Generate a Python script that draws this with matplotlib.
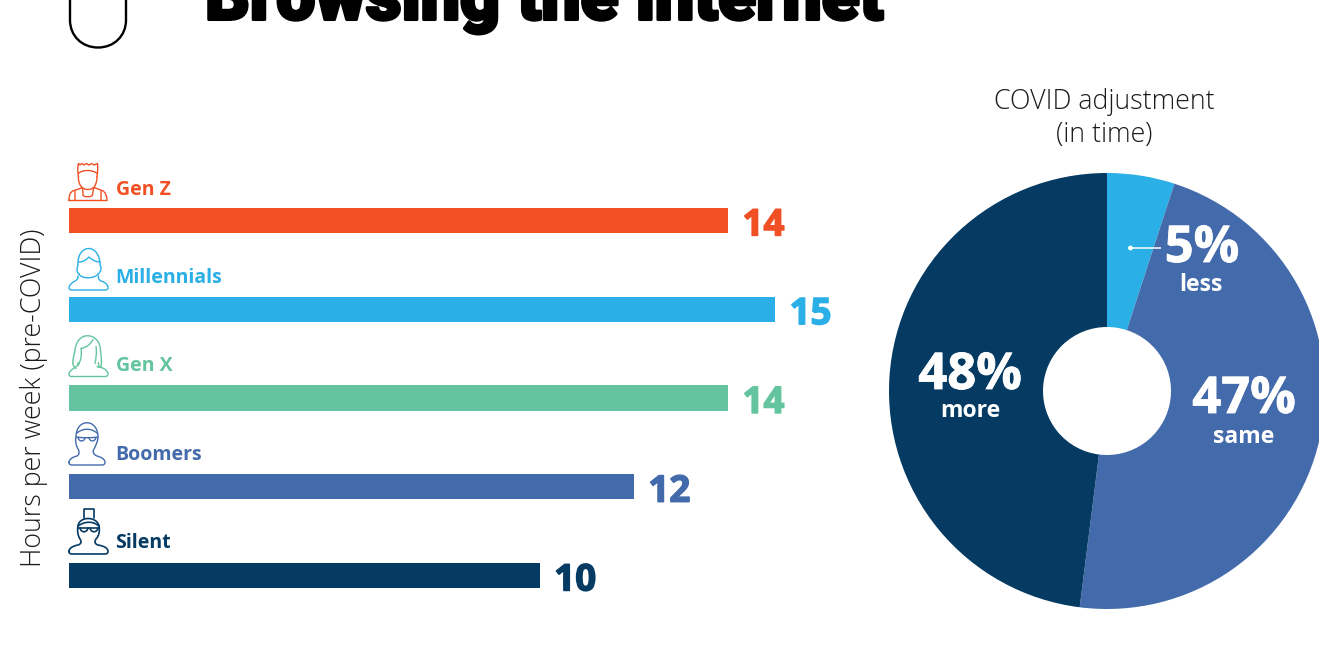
import matplotlib
matplotlib.use("Agg")
import matplotlib.pyplot as plt
import matplotlib.patheffects as pe
from matplotlib.path import Path
from matplotlib.patches import PathPatch, Circle

# Survey values
generations = ["Gen Z", "Millennials", "Gen X", "Boomers", "Silent"]
hours_per_week = [14, 15, 14, 12, 10]
adjustment_labels = ["less", "same", "more"]
adjustment_share = [5, 47, 48]

ORANGE, SKY, GREEN, STEEL, NAVY = "#F15025", "#2AAFE7", "#63C49F", "#436BAB", "#053A63"
bar_colors = [ORANGE, SKY, GREEN, STEEL, NAVY]
pie_colors = [SKY, STEEL, NAVY]

W, H = 1319, 649
BODY = ["Open Sans", "DejaVu Sans"]
plt.rcParams["font.family"] = BODY
fig = plt.figure(figsize=(W / 100, H / 100), dpi=100, facecolor="white")


def px_axes(left, top, right, bottom):
    return fig.add_axes([left / W, 1 - bottom / H, (right - left) / W, (bottom - top) / H])


# Horizontal bars: 15 hours spans 706 px, one row is 88.75 px tall
ax_bar = px_axes(69, 176.1, 775, 619.9)
ax_bar.set_xlim(0, 15)
ax_bar.set_ylim(4.5, -0.5)
ax_bar.axis("off")
positions = range(len(generations))
ax_bar.barh(positions, hours_per_week, height=0.282, color=bar_colors, linewidth=0)
for y, v, c in zip(positions, hours_per_week, bar_colors):
    t = ax_bar.annotate(str(v), (v, y), xytext=(14.5, -5), textcoords="offset pixels",
                        ha="left", va="center", color=c, fontsize=26.5, fontweight="bold",
                        clip_on=False)
    t.set_path_effects([pe.withStroke(linewidth=1.0, foreground=c)])

# Donut
ax_pie = px_axes(889, 173, 1325, 609)
ax_pie.set_aspect("equal")
ax_pie.pie(adjustment_share, colors=pie_colors, startangle=90, counterclock=False,
           radius=1, wedgeprops=dict(width=1 - 64 / 218, linewidth=0))
ax_pie.set_xlim(-1, 1)
ax_pie.set_ylim(-1, 1)
for p in ax_pie.patches:
    p.set_clip_on(False)

# Overlay in pixel coordinates for the annotations and pictograms
ov = fig.add_axes([0, 0, 1, 1])
ov.set_xlim(0, W)
ov.set_ylim(H, 0)
ov.axis("off")
ov.patch.set_alpha(0)

label_y = [190, 278, 366, 455, 543]
for name, c, y in zip(generations, bar_colors, label_y):
    ov.text(115.5, y, name, color=c, fontsize=14, fontweight="bold", ha="left", va="center")

DARK = "#1c1c1c"
ov.text(34.5, 397.5, "Hours per week (pre-COVID)", rotation=90, ha="center", va="center",
        fontsize=19.3, fontweight="light", color=DARK)
ov.text(1104, 102.5, "COVID adjustment", ha="center", va="center", fontsize=19.3,
        fontweight="light", color=DARK)
ov.text(1104, 135, "(in time)", ha="center", va="center", fontsize=19.3,
        fontweight="light", color=DARK)

title = ov.text(205, 19.5, "Browsing the internet", ha="left", va="baseline", fontsize=50.1,
                fontweight="black", family=["Roboto", "DejaVu Sans"], color="black", clip_on=True)
title.set_path_effects([pe.withStroke(linewidth=2.2, foreground="black")])

centers = [(1202, 249, 1201, 285), (1244, 400, 1244, 437), (970, 376, 970, 411)]
for share, word, (x1, y1, x2, y2) in zip(adjustment_share, adjustment_labels, centers):
    t = ov.text(x1, y1, f"{share}%", color="white", fontsize=36.5, fontweight="bold",
                ha="center", va="center")
    t.set_path_effects([pe.withStroke(linewidth=0.6, foreground="white")])
    ov.text(x2, y2, word, color="white", fontsize=16.6, fontweight="bold",
            ha="center", va="center")

# Leader from the 5% slice to its label
ov.plot([1130, 1161], [248, 248], color="white", lw=1.1, solid_capstyle="butt")
ov.add_patch(Circle((1130.5, 248), 2.4, color="white", lw=0))


def curve(start, *segments):
    """Open path from a start point; three-point segments are cubic, one-point are lines."""
    verts, codes = [start], [Path.MOVETO]
    for s in segments:
        if len(s) == 3:
            verts += list(s)
            codes += [Path.CURVE4] * 3
        else:
            verts += list(s)
            codes += [Path.LINETO]
    return Path(verts, codes)


def stroke(paths, color, ox, oy, lw=1.0):
    for p in paths:
        ov.add_patch(PathPatch(Path(p.vertices + (ox, oy), p.codes), fill=False, edgecolor=color,
                               lw=lw, capstyle="round", joinstyle="round"))


# Shoulders shared by the bust pictograms, origin at the left edge of the icon's base
bust = curve((9, -14),
             ((9.5, -11), (7, -9.5), (6, -9)),
             ((2, -7), (0, -4), (0, -2.5)),
             ((0, -0.8), (1, 0), (3, 0)),
             ((36, 0),),
             ((38, 0), (39, -1), (39, -2.5)),
             ((39, -5), (36, -8), (32, -9)),
             ((30, -10), (29, -12), (29.5, -14)))

# Gen Z: spiky hair and a tank top
stroke([curve((0, 0), ((0, -5), (1, -9), (5, -10)), ((8, -11), (12, -12), (13, -13)),
              ((14, -11), (14, -8), (14, -6)), ((13, -3), (24, -3), (23.5, -6)),
              ((24, -8), (24, -11), (25, -13)), ((27, -12), (31, -11), (33, -10)),
              ((36, -9), (38, -5), (38, 0)), ((0, 0),)),
        curve((9.5, -24), ((9, -16), (13, -11), (19, -11)), ((25, -11), (28, -16), (28, -24))),
        curve((9.5, -24), ((9, -27), (8, -31), (9.5, -37)), ((11, -35.5),), ((13, -37),),
              ((15, -35.5),), ((17.5, -37),), ((20, -35.5),), ((22.5, -37),), ((25, -35.5),),
              ((28.5, -37),), ((29, -31), (28.5, -27), (28, -24))),
        curve((9.5, -27), ((13, -31), (24, -31), (28, -27))),
        curve((6, -9.5), ((6, -6), (6, -3), (6, 0))),
        curve((32, -9.5), ((32, -6), (32, -3), (32, 0)))],
       ORANGE, 69, 200.5)

# Millennials: swept fringe
stroke([bust,
        curve((10, -16), ((7, -18), (8, -22), (9, -25)), ((8, -47), (31, -47), (31, -25)),
              ((33, -22), (32, -18), (29, -16))),
        curve((10, -28), ((15, -28), (18, -31), (20, -33)), ((23, -30), (27, -28), (31, -28))),
        curve((10, -16), ((12, -11), (26, -11), (29, -16)))],
       SKY, 69, 290)

# Gen X: long hair
stroke([bust,
        curve((7, -8), ((1, -12), (5, -20), (6, -26)), ((8, -46), (28, -44), (31, -30)),
              ((32, -22), (33, -16), (32, -10)), ((31, -9), (29, -9), (28, -10))),
        curve((12, -28), ((18, -29), (22, -33), (24, -37))),
        curve((12, -28), ((13, -22), (12, -16), (9, -11))),
        curve((27, -30), ((28, -24), (27, -18), (26, -13)))],
       GREEN, 69, 376.5)

# Boomers: glasses
stroke([curve((0, -2.5), ((0, -6), (4, -8), (8, -9)), ((10, -10), (11, -13), (9, -16)),
              ((7, -20), (6, -24), (7, -28)), ((7, -47), (29, -47), (29, -28)),
              ((29, -24), (27, -20), (25, -16)), ((23, -13), (25, -10), (28, -9)),
              ((32, -8), (36, -6), (36, -2.5)), ((36, -1), (35, 0), (33, 0)), ((3, 0),),
              ((1, 0), (0, -1), (0, -2.5))),
        curve((7, -28), ((14, -27), (21, -27), (29, -28))),
        curve((9, -27.5), ((10, -23), (15, -23), (16, -27))),
        curve((20, -27), ((21, -23), (26, -23), (27, -27.5))),
        curve((8, -32), ((14, -37), (22, -37), (28, -32)))],
       STEEL, 69, 465)

# Silent: bun and glasses
stroke([curve((0, -2.5), ((0, -6), (4, -8), (9, -9)), ((12, -10), (13, -12), (11, -15)),
              ((9, -18), (8, -23), (9, -28)), ((10, -38), (28, -38), (30, -28)),
              ((31, -23), (30, -18), (27, -15)), ((25, -12), (26, -10), (29, -9)),
              ((35, -8), (39, -6), (39, -2.5)), ((39, -1), (38, 0), (36, 0)), ((3, 0),),
              ((1, 0), (0, -1), (0, -2.5))),
        curve((15, -36), ((15, -40), (15, -42), (15, -45)), ((25, -45),), ((25, -40), (25, -38), (25, -36))),
        curve((9, -28), ((16, -33), (24, -33), (30, -28))),
        curve((11, -26), ((12, -21), (18, -21), (19, -26))),
        curve((21, -26), ((22, -21), (28, -21), (29, -26))),
        curve((9, -26), ((16, -26), (23, -26), (30, -26)))],
       NAVY, 69, 554, lw=1.2)

# Rounded outline at the top left, cut by the top edge of the page
ov.add_patch(PathPatch(curve((70, -5), ((70, 20),), ((70, 36), (82, 47.5), (98, 47.5)),
                             ((114, 47.5), (126, 36), (126, 20)), ((126, -5),)),
                       fill=False, edgecolor="black", lw=1.7))

fig.savefig("out.png", dpi=100, facecolor="white")
